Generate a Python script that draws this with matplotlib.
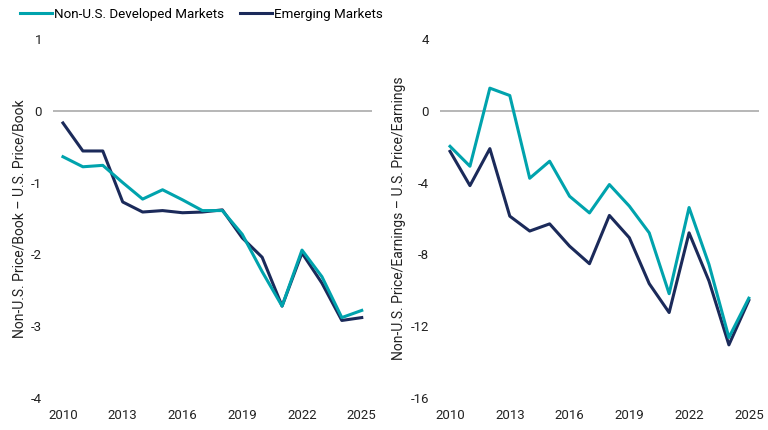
import matplotlib.pyplot as plt

plt.rcParams['font.family'] = ['Roboto', 'DejaVu Sans']
plt.rcParams['axes.unicode_minus'] = False

years = list(range(2010, 2026))

# Price/Book spreads vs U.S.
pb_dm = [-0.64, -0.78, -0.76, -1.00, -1.23, -1.10, -1.24, -1.39, -1.39,
         -1.72, -2.24, -2.72, -1.94, -2.31, -2.88, -2.78]
pb_em = [-0.17, -0.56, -0.56, -1.27, -1.41, -1.39, -1.42, -1.41, -1.38,
         -1.77, -2.04, -2.72, -1.98, -2.40, -2.92, -2.88]

# Price/Earnings spreads vs U.S.
pe_dm = [-1.98, -3.09, 1.26, 0.85, -3.76, -2.81, -4.76, -5.69, -4.11,
         -5.31, -6.80, -10.19, -5.39, -8.56, -12.63, -10.44]
pe_em = [-2.26, -4.17, -2.11, -5.87, -6.70, -6.30, -7.54, -8.52, -5.83,
         -7.07, -9.63, -11.24, -6.80, -9.48, -13.04, -10.56]

xticks = [2010, 2013, 2016, 2019, 2022, 2025]
teal = '#00A3AD'
navy = '#1B2A5A'

fig = plt.figure(figsize=(7.68, 4.3), dpi=100)
ax1 = fig.add_axes([0.069, 0.0744, 0.415, 0.835])
ax2 = fig.add_axes([0.573, 0.0744, 0.415, 0.835])

def style(ax, ylim, yticks, ylabel):
    ax.axhline(0, color='#AAAAAA', lw=1.2, zorder=1)
    ax.set_xlim(2009.5, 2025.5)
    ax.set_ylim(*ylim)
    ax.set_xticks(xticks)
    ax.set_yticks(yticks)
    for s in ax.spines.values():
        s.set_visible(False)
    ax.tick_params(length=0, labelsize=9.5, colors='#222222', pad=8)
    ax.set_ylabel(ylabel, fontsize=10, color='#222222', labelpad=3)

l1, = ax1.plot(years, pb_dm, color=teal, lw=2.2, label='Non-U.S. Developed Markets', zorder=3)
l2, = ax1.plot(years, pb_em, color=navy, lw=2.2, label='Emerging Markets', zorder=2)
style(ax1, (-4, 1), [1, 0, -1, -2, -3, -4], 'Non-U.S. Price/Book \u2013 U.S. Price/Book')

ax2.plot(years, pe_dm, color=teal, lw=2.2, zorder=3)
ax2.plot(years, pe_em, color=navy, lw=2.2, zorder=2)
style(ax2, (-16, 4), [4, 0, -4, -8, -12, -16], 'Non-U.S. Price/Earnings \u2013 U.S. Price/Earnings')

fig.legend(handles=[l1, l2], loc='upper left', bbox_to_anchor=(0.01, 1.01), ncol=2,
           frameon=False, fontsize=9.6, handlelength=2.4, handletextpad=0.15,
           columnspacing=1.2)

fig.savefig('out.png', dpi=100)
